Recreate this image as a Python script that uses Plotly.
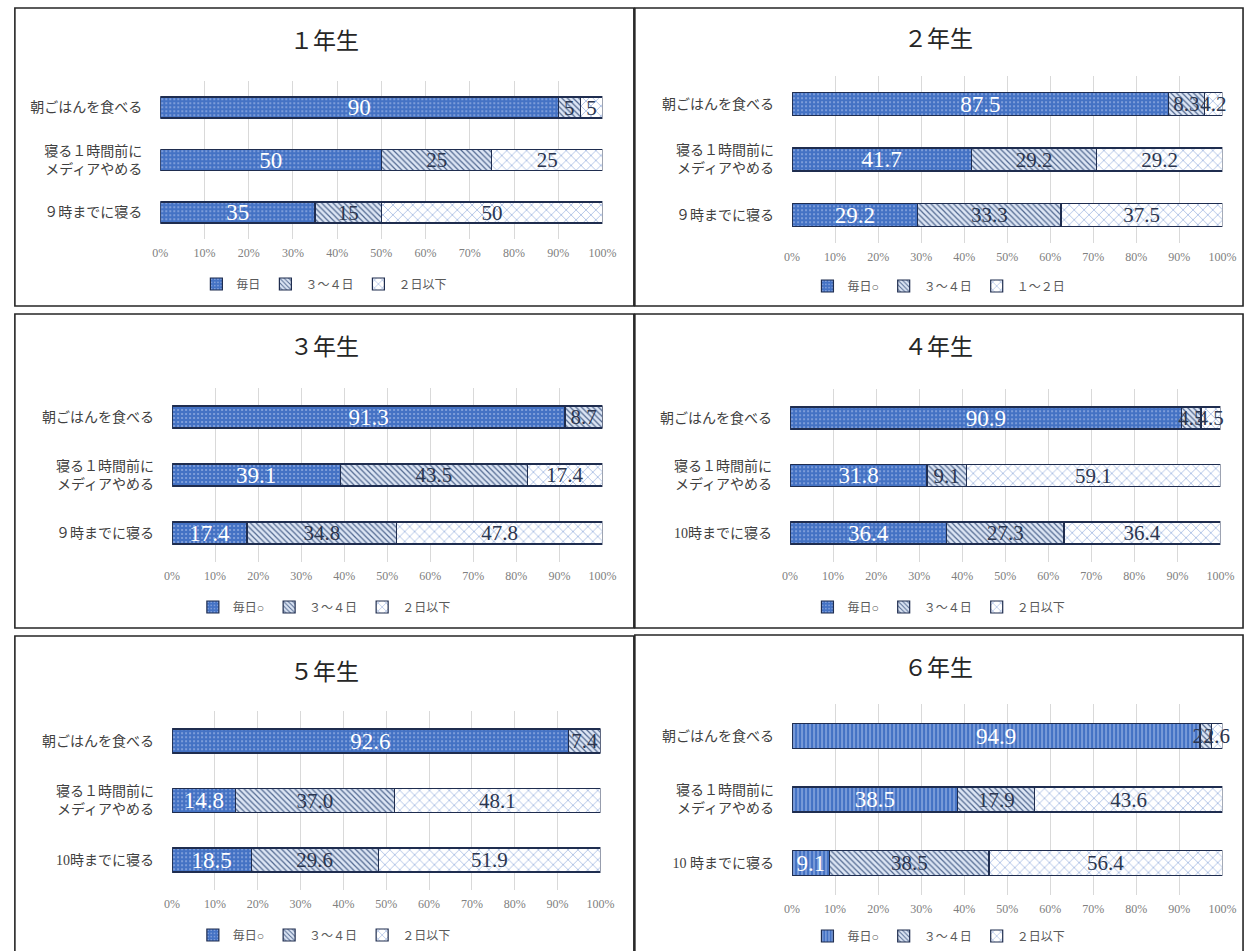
import plotly.graph_objects as go

W, H = 1259, 951

# ---------------- data ----------------
grade_titles = ['１年生', '２年生', '３年生', '４年生', '５年生', '６年生']

cats_1 = ['朝ごはんを食べる', '寝る１時間前に<br>メディアやめる', '９時までに寝る']
cats_2 = ['朝ごはんを食べる', '寝る１時間前に<br>メディアやめる', '９時までに寝る']
cats_3 = ['朝ごはんを食べる', '寝る１時間前に<br>メディアやめる', '９時までに寝る']
cats_4 = ['朝ごはんを食べる', '寝る１時間前に<br>メディアやめる', '10時までに寝る']
cats_5 = ['朝ごはんを食べる', '寝る１時間前に<br>メディアやめる', '10時までに寝る']
cats_6 = ['朝ごはんを食べる', '寝る１時間前に<br>メディアやめる', '10 時までに寝る']

series_1 = ['毎日', '３～４日', '２日以下']
series_2 = ['毎日○', '３～４日', '１～２日']
series_3 = ['毎日○', '３～４日', '２日以下']
series_4 = ['毎日○', '３～４日', '２日以下']
series_5 = ['毎日○', '３～４日', '２日以下']
series_6 = ['毎日○', '３～４日', '２日以下']

daily_1 = [90, 50, 35]
mid_1 = [5, 25, 15]
low_1 = [5, 25, 50]

daily_2 = [87.5, 41.7, 29.2]
mid_2 = [8.3, 29.2, 33.3]
low_2 = [4.2, 29.2, 37.5]

daily_3 = [91.3, 39.1, 17.4]
mid_3 = [8.7, 43.5, 34.8]
low_3 = [0, 17.4, 47.8]

daily_4 = [90.9, 31.8, 36.4]
mid_4 = [4.5, 9.1, 27.3]
low_4 = [4.5, 59.1, 36.4]

daily_5 = [92.6, 14.8, 18.5]
mid_5 = [7.4, 37.0, 29.6]
low_5 = [0, 48.1, 51.9]

daily_6 = [94.9, 38.5, 9.1]
mid_6 = [2.6, 17.9, 38.5]
low_6 = [2.6, 43.6, 56.4]

label_decimals = [0, 1, 1, 1, 1, 1]

x_tick_values = [0, 10, 20, 30, 40, 50, 60, 70, 80, 90, 100]
x_tick_labels = ['0%', '10%', '20%', '30%', '40%', '50%', '60%', '70%', '80%', '90%', '100%']

panels_data = [
    (cats_1, series_1, [daily_1, mid_1, low_1]),
    (cats_2, series_2, [daily_2, mid_2, low_2]),
    (cats_3, series_3, [daily_3, mid_3, low_3]),
    (cats_4, series_4, [daily_4, mid_4, low_4]),
    (cats_5, series_5, [daily_5, mid_5, low_5]),
    (cats_6, series_6, [daily_6, mid_6, low_6]),
]

# ---------------- layout geometry (pixels) ----------------
geom = [
    dict(box=(7, 8, 637, 306), ty=42, x0=155, x1=605, ymid=160, sp=52.5, bh=21, ly=284),
    dict(box=(638, 8, 1257, 306), ty=40, x0=798, x1=1236, ymid=159.5, sp=55.5, bh=23, ly=286),
    dict(box=(7, 314, 637, 628), ty=348, x0=167, x1=605, ymid=475, sp=58, bh=22, ly=607),
    dict(box=(638, 314, 1257, 628), ty=348, x0=796, x1=1234, ymid=475.5, sp=57.5, bh=22, ly=607),
    dict(box=(7, 636, 637, 960), ty=672, x0=167, x1=603, ymid=800.5, sp=59.5, bh=24, ly=935),
    dict(box=(638, 635, 1257, 960), ty=668, x0=798, x1=1236, ymid=799.5, sp=63.5, bh=25, ly=936),
]


def px(x):
    return x / W


def py(y):
    return 1 - y / H


SERIF = "Liberation Serif, 'Times New Roman', 'Noto Sans CJK JP', serif"

BLUE = '#4472C4'
patterns_default = [
    dict(shape='.', fgcolor='#8FAAE0', bgcolor=BLUE, size=4, solidity=0.2),
    dict(shape='\\', fgcolor='#50678F', bgcolor='#DCE5F4', size=4, solidity=0.3),
    dict(shape='x', fgcolor='#8EA9DB', bgcolor='#FFFFFF', size=7, solidity=0.18),
]
pattern_first_6 = dict(shape='|', fgcolor='#9BB5E6', bgcolor=BLUE, size=4, solidity=0.3)
text_colors = ['#FFFFFF', '#2B3650', '#2B3650']
text_sizes = [23, 21, 21]

fig = go.Figure()
layout_update = {}
shapes = []
annotations = []

for i, ((cats, names, vals), g) in enumerate(zip(panels_data, geom)):
    n = i + 1
    xa = 'x' if n == 1 else f'x{n}'
    ya = 'y' if n == 1 else f'y{n}'
    lg = 'legend' if n == 1 else f'legend{n}'
    bw = g['bh'] / g['sp']
    for s in range(3):
        pat = dict(patterns_default[s])
        if n == 6 and s == 0:
            pat = dict(pattern_first_6)
        texts = [('' if v == 0 else f"{v:.{label_decimals[i]}f}") for v in vals[s]]
        fig.add_trace(go.Bar(
            x=vals[s], y=cats, orientation='h', name=names[s],
            xaxis=xa, yaxis=ya, legend=lg,
            width=bw,
            marker=dict(color=pat['bgcolor'],
                        line=dict(color='#1F2D4F', width=1.2),
                        pattern=dict(shape=pat['shape'], fgcolor=pat['fgcolor'],
                                     bgcolor=pat['bgcolor'], size=pat['size'],
                                     solidity=pat['solidity'], fillmode='replace')),
            text=texts, textposition='inside', insidetextanchor='middle',
            textangle=0, constraintext='none', cliponaxis=False,
            textfont=dict(family=SERIF, size=text_sizes[s], color=text_colors[s]),
            hoverinfo='skip',
        ))

    half = 1.5 * g['sp']
    ykey = 'yaxis' if n == 1 else f'yaxis{n}'
    xkey = 'xaxis' if n == 1 else f'xaxis{n}'
    layout_update[xkey] = dict(
        domain=[px(g['x0']), px(g['x1'])], anchor=ya,
        range=[0, 100], tickvals=x_tick_values, ticktext=x_tick_labels,
        showgrid=True, gridcolor='#D9D9D9', gridwidth=1,
        zeroline=False, showline=False, ticks='',
        tickfont=dict(family=SERIF, size=12, color='#808080'),
        ticklabelstandoff=5, fixedrange=True,
    )
    layout_update[ykey] = dict(
        domain=[py(g['ymid'] + half), py(g['ymid'] - half)], anchor=xa,
        type='category', categoryorder='array', categoryarray=cats,
        range=[2.5, -0.5], showgrid=False, zeroline=False, showline=False,
        ticks='', tickfont=dict(family=SERIF, size=14, color='#404040'),
        ticklabelstandoff=17, fixedrange=True,
    )
    layout_update[lg] = dict(
        orientation='h', x=px((g['box'][0] + g['box'][2]) / 2), y=py(g['ly']),
        xanchor='center', yanchor='middle', bgcolor='rgba(0,0,0,0)',
        font=dict(family=SERIF, size=12, color='#595959'),
        itemwidth=30, traceorder='normal',
    )
    bx0, by0, bx1, by1 = g['box']
    shapes.append(dict(type='rect', xref='paper', yref='paper',
                       x0=px(bx0), x1=px(bx1), y0=py(by1), y1=py(by0),
                       line=dict(color='#262626', width=1.6), fillcolor='rgba(0,0,0,0)'))
    annotations.append(dict(text=grade_titles[i], xref='paper', yref='paper',
                            x=px((bx0 + bx1) / 2), y=py(g['ty']),
                            xanchor='center', yanchor='middle', showarrow=False,
                            font=dict(family=SERIF, size=23, color='#262626')))

fig.update_layout(
    width=W, height=H,
    margin=dict(l=0, r=0, t=0, b=0),
    paper_bgcolor='white', plot_bgcolor='white',
    barmode='stack', barnorm='percent',
    showlegend=True,
    shapes=shapes, annotations=annotations,
    **layout_update,
)

fig.write_html('out.html',
               config={'displayModeBar': False},
               post_script="document.body.style.margin='0';document.body.style.overflow='hidden';")
